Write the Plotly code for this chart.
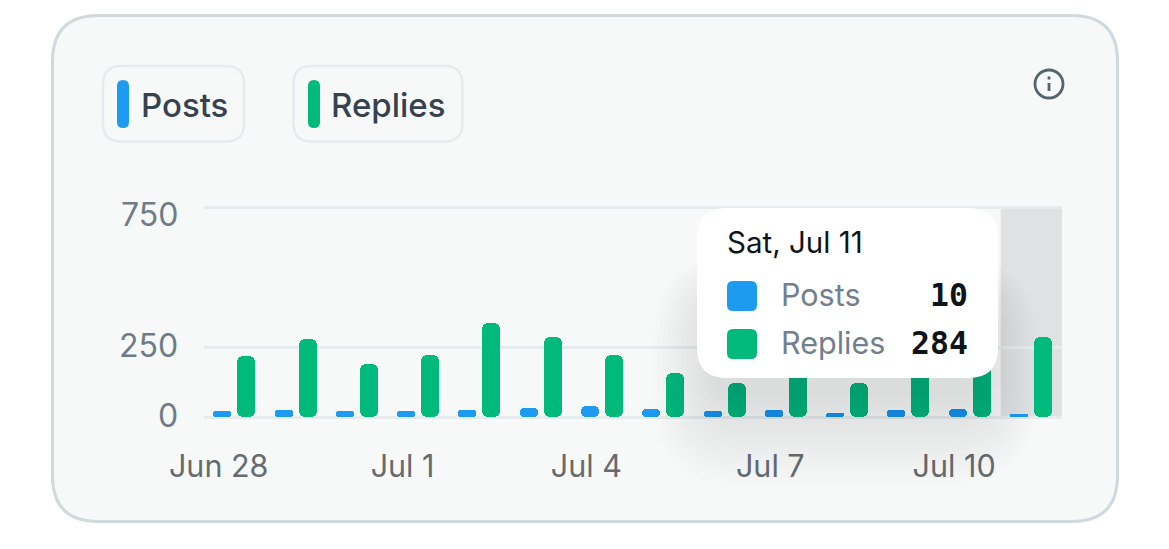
import plotly.graph_objects as go

# Daily activity, Jun 28 to Jul 11
days = ["Jun 28", "Jun 29", "Jun 30", "Jul 1", "Jul 2", "Jul 3", "Jul 4",
        "Jul 5", "Jul 6", "Jul 7", "Jul 8", "Jul 9", "Jul 10", "Jul 11"]
posts = [20, 26, 22, 22, 25, 33, 38, 27, 20, 25, 13, 24, 30, 10]
replies = [218, 277, 189, 222, 337, 287, 222, 158, 122, 215, 120, 225, 232, 284]

y_ticks = [0, 250, 750]
y_tick_shift = [2, 2, -7]
x_tick_labels = ["Jun 28", "Jul 1", "Jul 4", "Jul 7", "Jul 10"]
focus_label = "Sat, Jul 11"

W, H = 1169, 549
# The plot area runs 2px past the outer gridlines so that they stay drawn
PLOT_L, PLOT_R, PLOT_T, PLOT_B = 204, 1062, 205, 419
PX_PER_UNIT = 0.28
BLUE, GREEN = "#1d9bf0", "#00ba7c"
FONT = "Inter"


# Paper coordinates span the plot area, so page pixels are converted here
def fx(px):
    return (px - PLOT_L) / (PLOT_R - PLOT_L)


def fy(py):
    return (PLOT_B - py) / (PLOT_B - PLOT_T)


def rounded(x0, y0, x1, y1, r):
    """SVG path of a rounded rectangle, in paper fractions."""
    rx, ry = r / (PLOT_R - PLOT_L), r / (PLOT_B - PLOT_T)
    a, b, c, d = fx(x0), fx(x1), fy(y0), fy(y1)
    return (f"M{a + rx},{c} L{b - rx},{c} Q{b},{c} {b},{c - ry} "
            f"L{b},{d + ry} Q{b},{d} {b - rx},{d} "
            f"L{a + rx},{d} Q{a},{d} {a},{d + ry} "
            f"L{a},{c - ry} Q{a},{c} {a + rx},{c} Z")


def box(x0, y0, x1, y1, r, fill, line=None, lw=0, layer="below", opacity=1):
    return dict(type="path", xref="paper", yref="paper", path=rounded(x0, y0, x1, y1, r),
                fillcolor=fill, opacity=opacity, layer=layer,
                line=dict(color=line or "rgba(0,0,0,0)", width=lw))


def label(x, y, text, size, color, anchor="left", family=FONT, weight=400):
    return dict(xref="paper", yref="paper", x=fx(x), y=fy(y), text=text, showarrow=False,
                xanchor=anchor, yanchor="middle", borderpad=0,
                font=dict(family=family, size=size, color=color, weight=weight))


fig = go.Figure()
index = list(range(len(days)))
bar_w = 0.294
zero_base = [0] * len(days)  # an explicit base makes plotly round both bar ends


def add_rounded_bars(name, values, offset, color):
    fig.add_bar(x=index, y=values, base=zero_base, name=name, width=bar_w, offset=offset,
                marker=dict(color=color, cornerradius=6, line_width=0),
                showlegend=False, hoverinfo="skip")


add_rounded_bars("Posts", posts, -0.348, BLUE)
add_rounded_bars("Replies", replies, 0.043, GREEN)

shapes = [
    # Card and legend chips
    box(52.5, 15.5, 1117.5, 521.5, 46, "#f7f9f9", "#cfd9de", 3),
    box(103, 66, 244, 141.5, 18, "rgba(0,0,0,0)", "#e6ebee", 2.5),
    box(293.5, 66, 462.5, 141.5, 18, "rgba(0,0,0,0)", "#e6ebee", 2.5),
    box(117, 80, 129, 128, 6, BLUE),
    box(308, 80, 320, 128, 6, GREEN),
    # Highlighted day
    dict(type="rect", xref="x", yref="y", x0=12.5, x1=13.5, y0=0, y1=746, layer="below",
         fillcolor="rgba(15,20,25,0.10)", line_width=0),
]

# Tooltip shadow, then the tooltip body
layers = 14
for i in range(layers):
    grow = 58 * (1 - i / (layers - 1))
    shapes.append(box(712 - grow, 300 - grow * 0.8, 983 + grow * 0.9, 398 + grow * 1.5, 30 + grow,
                      "#0f1419", layer="above", opacity=0.008))
shapes += [
    box(697, 208, 998, 378, 30, "#ffffff", layer="above"),
    box(727, 281, 757, 311, 6, BLUE, layer="above"),
    box(727, 329, 757, 359, 6, GREEN, layer="above"),
    # Info icon
    dict(type="circle", xref="paper", yref="paper", layer="above",
         x0=fx(1035), x1=fx(1063), y0=fy(98), y1=fy(70),
         fillcolor="rgba(0,0,0,0)", line=dict(color="#536471", width=2.8)),
    dict(type="line", xref="paper", yref="paper", layer="above",
         x0=fx(1049), x1=fx(1049), y0=fy(83), y1=fy(91), line=dict(color="#536471", width=2.8)),
    dict(type="line", xref="paper", yref="paper", layer="above",
         x0=fx(1049), x1=fx(1049), y0=fy(76.5), y1=fy(79.5), line=dict(color="#536471", width=2.8)),
]

annotations = [
    label(140, 105, "Posts", 33, "#36424f", weight=500),
    label(330, 105, "Replies", 33, "#36424f", weight=500),
    label(726, 242, focus_label, 29.5, "#0f1419"),
    label(780, 294, "Posts", 30.5, "#71808f"),
    label(780, 342, "Replies", 30.5, "#71808f"),
    label(969, 295, str(posts[-1]), 31.5, "#0f1419", "right", "DejaVu Sans Mono", 700),
    label(969, 343, str(replies[-1]), 31.5, "#0f1419", "right", "DejaVu Sans Mono", 700),
]
for tick, shift in zip(y_ticks, y_tick_shift):
    annotations.append(dict(xref="paper", yref="y", x=fx(179.5), y=tick, yshift=shift,
                            text=str(tick), showarrow=False, xanchor="right", yanchor="middle",
                            font=dict(family=FONT, size=32, color="#6e7c89")))

pad_units = 2 / PX_PER_UNIT
fig.update_layout(
    width=W, height=H,
    margin=dict(l=PLOT_L, r=W - PLOT_R, t=PLOT_T, b=H - PLOT_B, pad=0, autoexpand=False),
    paper_bgcolor="#ffffff", plot_bgcolor="rgba(0,0,0,0)",
    barmode="overlay", bargap=0, showlegend=False,
    shapes=shapes, annotations=annotations,
    font=dict(family=FONT),
    xaxis=dict(range=[-0.5, 13.5], showgrid=False, zeroline=False,
               showline=False, ticks="",
               tickmode="array", tickvals=[days.index(d) - 0.26 for d in x_tick_labels],
               ticktext=x_tick_labels, ticklabelstandoff=26,
               tickfont=dict(family=FONT, size=30.5, color="#666b70"), tickangle=0),
    yaxis=dict(range=[-pad_units, 750 + pad_units], zeroline=False, showline=False,
               showticklabels=False, ticks="",
               tickmode="array", tickvals=y_ticks, showgrid=True,
               gridcolor="#e6ebee", gridwidth=2.5),
)

fig.write_html("out.html", config=dict(displayModeBar=False))
